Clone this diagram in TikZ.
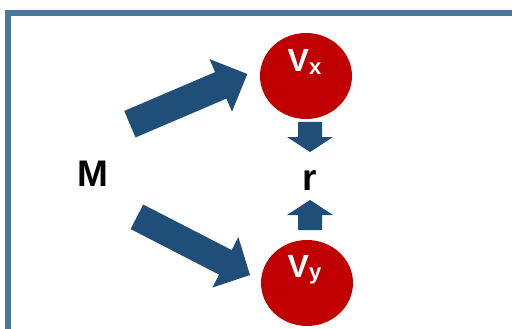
\documentclass[tikz,border=0pt]{standalone}
\usepackage{fontspec}
\setmainfont{Liberation Sans}
\usetikzlibrary{calc,shapes.geometric}
\definecolor{frameblue}{HTML}{4A76A2}
\definecolor{arrowblue}{HTML}{1F4E79}
\definecolor{circred}{HTML}{C00000}
\begin{document}
\begin{tikzpicture}[x=1pt,y=-1pt,
		var/.style={ellipse,fill=circred,minimum width=92pt,minimum height=86pt,inner sep=0pt},
		vtext/.style={text=white,font=\fontsize{32}{32}\selectfont\bfseries,anchor=base west,inner sep=0pt},
		lbl/.style={font=\fontsize{37}{37}\selectfont\bfseries,anchor=base,inner sep=0pt},
		block/.style={fill=arrowblue}]
		\useasboundingbox (0,0) rectangle (512,329);
		\draw[frameblue,line width=6pt] (8,340) -- (8,13) -- (520,13);
		
		\node[var] (vx) at (306,76) {};
		\node[var] (vy) at (307,283) {};
		\node[vtext] (vxt) at (287.5,72) {V\raisebox{-2pt}{\fontsize{22}{22}\selectfont x}};
		\node[vtext] (vyt) at (287.5,277) {V\raisebox{-2pt}{\fontsize{22}{22}\selectfont y}};
		\node[lbl] (m) at (93,186) {M};
		\node[lbl] (r) at (310,190) {r};
		
		\coordinate (mx0) at (129.9,124.2);
		\coordinate (mx1) at (247.3,74);
		\coordinate (my0) at (136.9,216.8);
		\coordinate (my1) at (250,275);
		\coordinate (xr0) at (310,122);
		\coordinate (xr1) at (310,152);
		\coordinate (yr0) at (310,230);
		\coordinate (yr1) at (310,200);
		\foreach \p/\q/\w/\h/\len in {mx0/mx1/14.4/28.6/28.9, my0/my1/13.8/28.4/27.7, xr0/xr1/12/23/15, yr0/yr1/12/23/15}{
			\coordinate (hb) at ($(\q)!\len pt!(\p)$);
			\fill[block] ($(\p)!\w pt!90:(\q)$) -- ($(hb)!\w pt!-90:(\p)$) -- ($(hb)!\h pt!-90:(\p)$) -- (\q)
				-- ($(hb)!\h pt!90:(\p)$) -- ($(hb)!\w pt!90:(\p)$) -- ($(\p)!\w pt!-90:(\q)$) -- cycle;
		}
\end{tikzpicture}
\end{document}
